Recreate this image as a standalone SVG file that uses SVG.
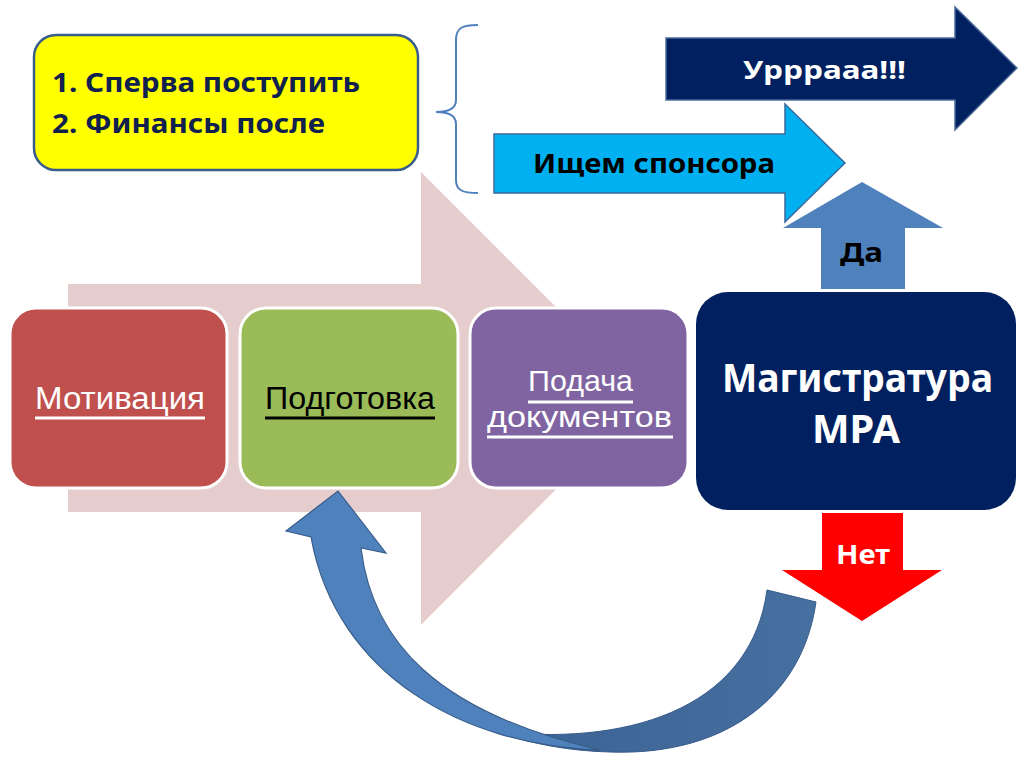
<svg xmlns="http://www.w3.org/2000/svg" width="1024" height="768" viewBox="0 0 1024 768">
<defs>
<style>
.box{stroke:#ffffff;stroke-width:3}
.t{font-family:"Noto Sans","Open Sans","Liberation Sans",sans-serif;text-anchor:start}
.n{font-family:"Liberation Sans","Noto Sans",sans-serif;text-anchor:start}
.b{font-weight:bold}
.ul{stroke-width:3}
</style>
<linearGradient id="gR" x1="0" y1="0" x2="1" y2="0">
<stop offset="0" stop-color="#3b6294"/>
<stop offset="1" stop-color="#46709f"/>
</linearGradient>
</defs>
<rect x="0" y="0" width="1024" height="768" fill="#ffffff"/>

<g id="bg-arrow">
<polygon points="68,284 421,284 421,172 647,398 421,625 421,512 68,512" fill="#e6cdcd"/>
</g>

<g id="note">
<rect x="34" y="35" width="384" height="135" rx="22" fill="#ffff00" stroke="#385d8a" stroke-width="2.5"/>
<text class="t b" x="52" y="92" font-size="27" fill="#10204f" textLength="308" lengthAdjust="spacingAndGlyphs">1. Сперва поступить</text>
<text class="t b" x="52" y="133" font-size="27" fill="#10204f" textLength="273" lengthAdjust="spacingAndGlyphs">2. Финансы после</text>
</g>

<g id="brace">
<path d="M478,25 C462,25 456,28 456,40 L456,100 C456,108 450,112 436,112 C450,112 456,116 456,124 L456,180 C456,190 462,193 478,193" fill="none" stroke="#4f81bd" stroke-width="2"/>
</g>

<g id="hooray">
<polygon points="666,38 955,38 955,7 1017,68 955,130 955,100 666,100" fill="#002060" stroke="#4a6a9a" stroke-width="1.5"/>
<text class="t b" x="743" y="79" font-size="25" fill="#ffffff" textLength="163" lengthAdjust="spacingAndGlyphs">Урррааа!!!</text>
</g>

<g id="sponsor">
<polygon points="494,134 785,134 785,104 845,163 785,222 785,193 494,193" fill="#00b0f0" stroke="#3a6a9a" stroke-width="1.5"/>
<text class="t b" x="533" y="173" font-size="27" fill="#000000" textLength="242" lengthAdjust="spacingAndGlyphs">Ищем спонсора</text>
</g>

<g id="yes">
<polygon points="821,289 821,228 783,228 862,182 943,228 905,228 905,289" fill="#4f81bd"/>
<text class="t b" x="840" y="262" font-size="26" fill="#000000" textLength="43" lengthAdjust="spacingAndGlyphs">Да</text>
</g>

<g id="no">
<polygon points="822,513 903,513 903,570 942,570 862,621 782,570 822,570" fill="#ff0000"/>
<text class="t b" x="836" y="564" font-size="26" fill="#ffffff" textLength="54" lengthAdjust="spacingAndGlyphs">Нет</text>
</g>

<g id="motivation">
<rect class="box" x="10" y="308" width="217" height="180" rx="26" fill="#c0504d"/>
<text class="n" x="35" y="409" font-size="31" fill="#ffffff" textLength="170" lengthAdjust="spacingAndGlyphs">Мотивация</text>
<line class="ul" x1="35" y1="418" x2="205" y2="418" stroke="#ffffff"/>
</g>

<g id="preparation">
<rect class="box" x="240" y="308" width="218" height="180" rx="26" fill="#9bbb59"/>
<text class="n" x="265" y="409" font-size="31" fill="#000000" textLength="170" lengthAdjust="spacingAndGlyphs">Подготовка</text>
<line class="ul" x1="265" y1="418" x2="435" y2="418" stroke="#000000"/>
</g>

<g id="submission">
<rect class="box" x="470" y="308" width="218" height="180" rx="26" fill="#8064a2"/>
<text class="n" x="528" y="391" font-size="29" fill="#ffffff" textLength="105" lengthAdjust="spacingAndGlyphs">Подача</text>
<line class="ul" x1="528" y1="402" x2="633" y2="402" stroke="#ffffff"/>
<text class="n" x="487" y="427" font-size="29" fill="#ffffff" textLength="185" lengthAdjust="spacingAndGlyphs">документов</text>
<line class="ul" x1="487" y1="437" x2="673" y2="437" stroke="#ffffff"/>
</g>

<g id="masters">
<rect x="696" y="292" width="320" height="218" rx="32" fill="#002060"/>
<text class="t b" x="722" y="392" font-size="40" fill="#ffffff" textLength="271" lengthAdjust="spacingAndGlyphs">Магистратура</text>
<text class="t b" x="812" y="443" font-size="40" fill="#ffffff" textLength="88" lengthAdjust="spacingAndGlyphs">МРА</text>
</g>

<g id="connectors">
<path d="M816,602 C802,700 722,756 610,752 C570,751 530,744 500,732 C640,746 752,702 767,590 Z" fill="url(#gR)" stroke="#36598a" stroke-width="1"/>
<path d="M338,491 L386,553 L361,548 C372,640 435,712 600,750 C465,746 336,676 311,537 L286,531 Z" fill="#4f81bd" stroke="#385d8a" stroke-width="1.2"/>
</g>
</svg>
